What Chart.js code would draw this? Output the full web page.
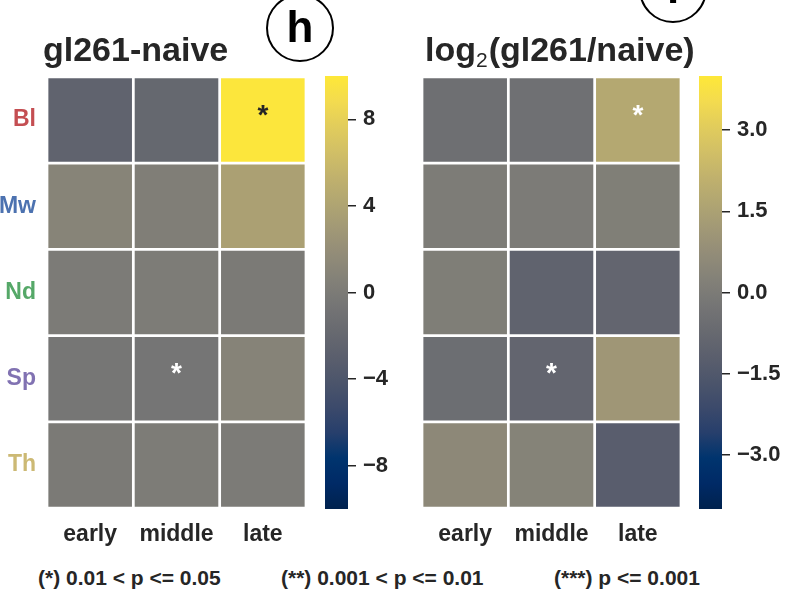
<!DOCTYPE html>
<html>
<head>
<meta charset="utf-8">
<script src="https://cdn.jsdelivr.net/npm/chart.js@4.4.0/dist/chart.umd.min.js"></script>
<style>
  body { margin: 0; background: #fff; width: 785px; height: 595px; overflow: hidden; position: relative;
         font-family: "Liberation Sans", Arial, sans-serif; color: #262626; }
  canvas { position: absolute; top: 0; }
  .badge { position: absolute; width: 64px; height: 64px; border: 2px solid #000; border-radius: 50%;
           text-align: center; font: bold 44px "Liberation Sans", Arial, sans-serif; line-height: 62px; color: #000; }
  .note { position: absolute; top: 567px; font: bold 21px "Liberation Sans", Arial, sans-serif; line-height: 21px; white-space: nowrap; }
</style>
</head>
<body>
<canvas id="diffMap" style="left:0px" width="320" height="560"></canvas>
<canvas id="diffBar" style="left:325px" width="70" height="560"></canvas>
<canvas id="ratioMap" style="left:375px" width="340" height="560"></canvas>
<canvas id="ratioBar" style="left:699px" width="86" height="560"></canvas>

<div class="badge" style="left:266px;top:-6px">h</div>
<div class="badge" style="left:639px;top:-45px">i</div>

<div class="note" style="left:38px">(*) 0.01 &lt; p &lt;= 0.05</div>
<div class="note" style="left:281px">(**) 0.001 &lt; p &lt;= 0.01</div>
<div class="note" style="left:554px">(***) p &lt;= 0.001</div>

<script>
// categories
const timepoints = ['early', 'middle', 'late'];
const tissues = ['Bl', 'Mw', 'Nd', 'Sp', 'Th'];
const tissueColors = ['#c44e52', '#4c72b0', '#55a868', '#8172b2', '#ccb974'];

// gl261 - naive (rows = tissues, cols = timepoints)
const diffValues = [
    [-2.5, -2.0, 9.8],
    [0.9, 0.3, 3.7],
    [0.0, 0.1, -0.1],
    [-0.5, -0.6, 0.8],
    [-0.1, 0.1, 0.0]
];
const diffStars = [
    ['', '', '*'],
    ['', '', ''],
    ['', '', ''],
    ['', '*', ''],
    ['', '', '']
];
const diffRange = 10;
const diffTicks = [8, 4, 0, -4, -8];

// log2(gl261/naive)
const ratioValues = [
    [-0.5, -0.45, 1.75],
    [0.05, 0.0, 0.15],
    [0.1, -1.0, -0.9],
    [-0.55, -0.9, 1.1],
    [0.55, 0.3, -1.25]
];
const ratioStars = [
    ['', '', '*'],
    ['', '', ''],
    ['', '', ''],
    ['', '*', ''],
    ['', '', '']
];
const ratioRange = 4;
const ratioTicks = [3.0, 1.5, 0.0, -1.5, -3.0];

// cividis colormap stops
const cividisStops = [
    [0, 34, 78], [0, 42, 102], [0, 52, 110], [39, 63, 108], [60, 74, 107], [76, 85, 107],
    [91, 95, 109], [104, 106, 112], [117, 117, 117], [131, 129, 120], [146, 140, 120],
    [161, 152, 118], [176, 165, 114], [192, 177, 109], [209, 191, 102], [225, 204, 92],
    [243, 219, 79], [254, 232, 56]
];

function cividisRgb(t) {
    t = Math.max(0, Math.min(1, t));
    let pos = t * (cividisStops.length - 1);
    let i = Math.min(Math.floor(pos), cividisStops.length - 2);
    let f = pos - i;
    let a = cividisStops[i], b = cividisStops[i + 1];
    return [0, 1, 2].map(k => Math.round(a[k] + (b[k] - a[k]) * f));
}

function cividis(t) {
    let c = cividisRgb(t);
    return 'rgb(' + c.join(',') + ')';
}

function textColorFor(t) {
    // same rule as seaborn annotations: dark text on light cells
    let c = cividisRgb(t).map(v => {
        v = v / 255;
        return v <= 0.03928 ? v / 12.92 : Math.pow((v + 0.055) / 1.055, 2.4);
    });
    let lum = 0.2126 * c[0] + 0.7152 * c[1] + 0.0722 * c[2];
    return lum > 0.408 ? '#262626' : '#ffffff';
}

const darkText = '#262626';
const fontFamily = '"Liberation Sans", Arial, sans-serif';

function makeHeatmap(id, values, stars, range, titleParts, titleShift, showRowLabels, padRight) {
    let datasets = tissues.map((t, r) => ({
        label: t,
        data: timepoints.map(() => [r, r + 1]),
        backgroundColor: values[r].map(v => cividis((v + range) / (2 * range))),
        borderColor: '#ffffff',
        borderWidth: 1.7,
        borderSkipped: false,
        grouped: false,
        barPercentage: 1,
        categoryPercentage: 1
    }));

    let overlay = {
        id: 'overlay',
        afterDatasetsDraw(chart) {
            let ctx = chart.ctx;
            ctx.save();
            ctx.font = 'bold 28px ' + fontFamily;
            ctx.textAlign = 'center';
            ctx.textBaseline = 'middle';
            stars.forEach((row, r) => {
                row.forEach((s, c) => {
                    if (!s) return;
                    let el = chart.getDatasetMeta(r).data[c];
                    let t = (values[r][c] + range) / (2 * range);
                    ctx.fillStyle = textColorFor(t);
                    ctx.fillText(s, el.x, (el.y + el.base) / 2 - 4);
                });
            });
            // title, with subscript part when needed
            let x = chart.chartArea.left + titleShift;
            let y = 61;
            ctx.textAlign = 'left';
            ctx.textBaseline = 'alphabetic';
            ctx.fillStyle = darkText;
            titleParts.forEach(p => {
                ctx.font = p.sub ? '21px ' + fontFamily : 'bold 34px ' + fontFamily;
                let dy = p.sub ? 6 : 0;
                ctx.fillText(p.text, x, y + dy);
                x += ctx.measureText(p.text).width + (p.sub ? 1 : 0);
            });
            ctx.restore();
        }
    };

    return new Chart(document.getElementById(id), {
        type: 'bar',
        data: { labels: timepoints, datasets: datasets },
        options: {
            responsive: false,
            animation: false,
            layout: { padding: { top: 77, right: padRight, bottom: 0, left: 0 } },
            plugins: { legend: { display: false }, tooltip: { enabled: false } },
            scales: {
                x: {
                    type: 'category',
                    grid: { display: false, drawTicks: false },
                    border: { display: false },
                    ticks: { color: darkText, font: { family: fontFamily, size: 23, weight: 'bold' }, padding: 13 },
                    afterFit: s => { s.height = 52; }
                },
                y: {
                    type: 'linear',
                    min: 0,
                    max: tissues.length,
                    reverse: true,
                    grid: { display: false, drawTicks: false },
                    border: { display: false },
                    afterBuildTicks: s => { s.ticks = tissues.map((t, i) => ({ value: i + 0.5 })); },
                    ticks: {
                        display: showRowLabels,
                        callback: (v, i) => tissues[i],
                        color: c => tissueColors[c.index],
                        font: { family: fontFamily, size: 23, weight: 'bold' },
                        padding: 11
                    },
                    afterFit: s => { s.width = 47; }
                }
            }
        },
        plugins: [overlay]
    });
}

function makeColorbar(id, range, ticks, digits, axisWidth) {
    return new Chart(document.getElementById(id), {
        type: 'bar',
        data: {
            labels: [''],
            datasets: [{
                data: [[-range, range]],
                backgroundColor: ctx => {
                    let area = ctx.chart.chartArea;
                    if (!area) return '#7c7b78';
                    let g = ctx.chart.ctx.createLinearGradient(0, area.bottom, 0, area.top);
                    cividisStops.forEach((c, i) => g.addColorStop(i / (cividisStops.length - 1), 'rgb(' + c.join(',') + ')'));
                    return g;
                },
                borderWidth: 0,
                barPercentage: 1,
                categoryPercentage: 1
            }]
        },
        options: {
            responsive: false,
            animation: false,
            layout: { padding: { top: 76, right: 0, bottom: 51, left: 0 } },
            plugins: { legend: { display: false }, tooltip: { enabled: false } },
            scales: {
                x: { display: false },
                y: {
                    position: 'right',
                    min: -range,
                    max: range,
                    border: { display: false },
                    grid: { drawOnChartArea: false, drawTicks: true, tickLength: 8, color: darkText, lineWidth: 1.5 },
                    afterBuildTicks: s => { s.ticks = ticks.map(v => ({ value: v })); },
                    ticks: {
                        color: darkText,
                        font: { family: fontFamily, size: 22, weight: 'bold' },
                        padding: 7,
                        callback: v => (v < 0 ? '\u2212' : '') + Math.abs(v).toFixed(digits)
                    },
                    afterFit: s => { s.width = axisWidth; }
                }
            }
        }
    });
}

makeHeatmap('diffMap', diffValues, diffStars, diffRange, [{ text: 'gl261-naive' }], -4, true, 14);
makeColorbar('diffBar', diffRange, diffTicks, 0, 47);
makeHeatmap('ratioMap', ratioValues, ratioStars, ratioRange,
    [{ text: 'log' }, { text: '2', sub: true }, { text: '(gl261/naive)' }], 3, false, 34);
makeColorbar('ratioBar', ratioRange, ratioTicks, 1, 63);
</script>
</body>
</html>
